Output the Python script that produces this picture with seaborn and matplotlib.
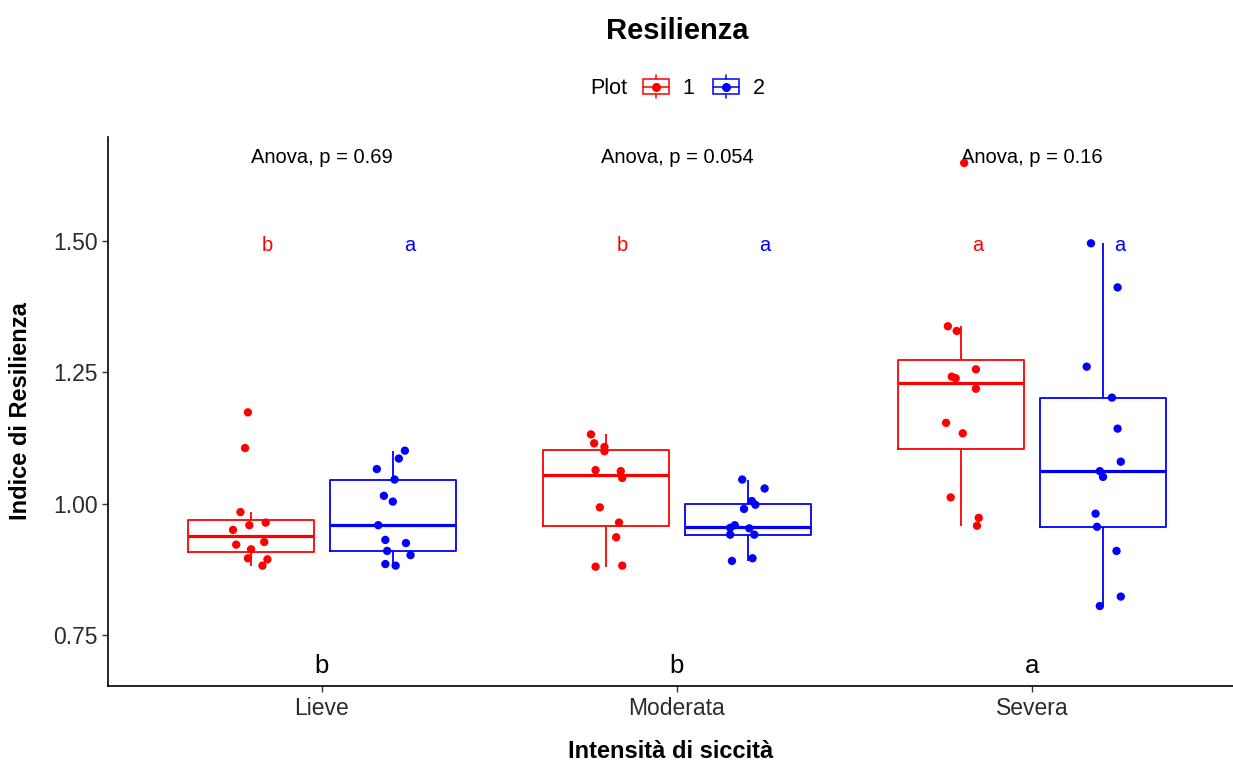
import numpy as np
import pandas as pd
import matplotlib
matplotlib.use("Agg")
import matplotlib.pyplot as plt
from matplotlib.legend_handler import HandlerBase
from matplotlib.lines import Line2D
from matplotlib.patches import Rectangle
import seaborn as sns

# ---- data -------------------------------------------------------------
categories = ["Lieve", "Moderata", "Severa"]
plots = ["1", "2"]

lieve_1 = [1.174, 1.106, 0.984, 0.959, 0.964, 0.950, 0.922, 0.927, 0.913, 0.896, 0.894, 0.882]
lieve_2 = [1.101, 1.086, 1.066, 1.046, 1.015, 1.004, 0.959, 0.931, 0.925, 0.910, 0.902, 0.885, 0.882]
moderata_1 = [1.132, 1.115, 1.108, 1.100, 1.064, 1.062, 1.049, 0.993, 0.964, 0.936, 0.880, 0.882]
moderata_2 = [1.046, 1.029, 1.005, 0.998, 0.990, 0.959, 0.954, 0.941, 0.953, 0.941, 0.891, 0.896]
severa_1 = [1.649, 1.338, 1.329, 1.256, 1.242, 1.239, 1.219, 1.154, 1.134, 1.012, 0.973, 0.958]
severa_2 = [1.496, 1.412, 1.261, 1.202, 1.143, 1.080, 1.062, 1.051, 0.981, 0.956, 0.910, 0.823, 0.805]

# horizontal jitter of the individual points (category units)
lieve_1_jit = [-0.008, -0.016, -0.029, -0.004, 0.042, -0.050, -0.041, 0.038, 0.001, -0.008, 0.047, 0.033]
lieve_2_jit = [0.034, 0.017, -0.045, 0.005, -0.025, 0.0, -0.041, -0.021, 0.037, -0.016, 0.050, -0.021, 0.008]
moderata_1_jit = [-0.042, -0.033, -0.004, -0.004, -0.029, 0.042, 0.046, -0.017, 0.037, 0.029, -0.029, 0.046]
moderata_2_jit = [-0.016, 0.047, 0.011, 0.021, -0.011, -0.037, -0.050, -0.050, 0.004, 0.018, -0.045, 0.013]
severa_1_jit = [0.009, -0.037, -0.012, 0.042, -0.026, -0.015, 0.042, -0.042, 0.005, -0.029, 0.050, 0.045]
severa_2_jit = [-0.034, 0.041, -0.046, 0.025, 0.041, 0.050, -0.009, 0.0, -0.021, -0.017, 0.038, 0.050, -0.009]

anova_p = ["0.69", "0.054", "0.16"]
letters_plot1 = ["b", "b", "a"]
letters_plot2 = ["a", "a", "a"]
letters_group = ["b", "b", "a"]

y_ticks = [0.75, 1.00, 1.25, 1.50]
y_tick_labels = ["0.75", "1.00", "1.25", "1.50"]

# ---- long table -------------------------------------------------------
series = {
    ("Lieve", "1"): (lieve_1, lieve_1_jit),
    ("Lieve", "2"): (lieve_2, lieve_2_jit),
    ("Moderata", "1"): (moderata_1, moderata_1_jit),
    ("Moderata", "2"): (moderata_2, moderata_2_jit),
    ("Severa", "1"): (severa_1, severa_1_jit),
    ("Severa", "2"): (severa_2, severa_2_jit),
}
rows = []
for (cat, plot), (vals, jit) in series.items():
    for v, j in zip(vals, jit):
        rows.append({"Intensita": cat, "Plot": plot, "Resilienza": v, "jit": j})
df = pd.DataFrame(rows)

# ---- style ------------------------------------------------------------
sns.set_theme(style="ticks")
plt.rcParams["font.family"] = ["Liberation Sans", "DejaVu Sans"]
plt.rcParams["text.color"] = "black"

palette = {"1": "#FF0000", "2": "#0000FF"}
box_width = 0.8
dodge_off = box_width / 4

fig = plt.figure(figsize=(12.33, 7.62), dpi=100)
ax = fig.add_axes([108 / 1233, 1 - 686 / 762, 1 - 108 / 1233, (686 - 137) / 762])

sns.boxplot(
    data=df, x="Intensita", y="Resilienza", hue="Plot",
    order=categories, hue_order=plots, palette=palette,
    fill=False, showfliers=False, showcaps=False,
    width=box_width, gap=0.11, linewidth=1.3,
    medianprops={"linewidth": 2.3},
    legend=False, ax=ax,
)

# jittered observations
for (cat, plot), (vals, jit) in series.items():
    base = categories.index(cat) + (-dodge_off if plot == "1" else dodge_off)
    xs = base + np.asarray(jit)
    ax.scatter(xs, vals, s=36, color=palette[plot], edgecolors="none", zorder=4)

# annotations
for i, cat in enumerate(categories):
    ax.text(i, 1.660, f"Anova, p = {anova_p[i]}", ha="center", va="center",
            fontsize=14.5, color="black")
    ax.text(i - dodge_off + 0.047, 1.492, letters_plot1[i], ha="center", va="center",
            fontsize=14.5, color=palette["1"])
    ax.text(i + dodge_off + 0.047, 1.492, letters_plot2[i], ha="center", va="center",
            fontsize=14.5, color=palette["2"])
    ax.text(i, 0.690, letters_group[i], ha="center", va="center",
            fontsize=18.5, color="black")

# axes
ax.set_xlim(-0.602, 2.566)
ax.set_ylim(0.6527, 1.6985)
ax.set_yticks(y_ticks)
ax.set_yticklabels(y_tick_labels)
ax.set_xticks(range(len(categories)))
ax.set_xticklabels(categories)
ax.tick_params(axis="both", labelsize=16.5, length=4, width=1.0, color="#333333",
               labelcolor="#2b2b2b")
ax.tick_params(axis="x", pad=4)
for side in ["top", "right"]:
    ax.spines[side].set_visible(False)
for side in ["left", "bottom"]:
    ax.spines[side].set_linewidth(1.2)
    ax.spines[side].set_color("black")
ax.set_xlabel("Intensità di siccità", fontsize=17, fontweight="bold", labelpad=14,
              color="black")
ax.set_ylabel("Indice di Resilienza", fontsize=17, fontweight="bold", labelpad=15,
              color="black")
ax.grid(False)

fig.suptitle("Resilienza", x=677 / 1233, y=1 - 31 / 762, va="center",
             fontsize=21, fontweight="bold", color="black")


# legend keys drawn as small boxplots
class BoxKeyHandler(HandlerBase):
    def create_artists(self, legend, orig_handle, xdescent, ydescent,
                       width, height, fontsize, trans):
        c = orig_handle.get_color()
        x0, y0 = -xdescent, -ydescent
        cx = x0 + width / 2
        bh = height * 0.64
        by = y0 + (height - bh) / 2
        rect = Rectangle((x0, by), width, bh, fill=False, edgecolor=c,
                         linewidth=1.1, transform=trans)
        med = Line2D([x0, x0 + width], [y0 + height / 2] * 2, color=c,
                     linewidth=1.1, transform=trans)
        wlo = Line2D([cx, cx], [y0, by], color=c, linewidth=1.1, transform=trans)
        whi = Line2D([cx, cx], [by + bh, y0 + height], color=c, linewidth=1.1,
                     transform=trans)
        dot = Line2D([cx], [y0 + height / 2], marker="o", markersize=5.5,
                     color=c, linestyle="none", transform=trans)
        return [rect, med, wlo, whi, dot]


handles = [Line2D([], [], color=palette[p]) for p in plots]
leg = fig.legend(
    handles, plots, loc="center left", bbox_to_anchor=(643 / 1233, 1 - 87 / 762),
    ncol=2, frameon=False, fontsize=15.5, handlelength=1.2, handleheight=1.3,
    handletextpad=0.65, columnspacing=0.85, borderpad=0, borderaxespad=0,
    handler_map={Line2D: BoxKeyHandler()},
)
for t in leg.get_texts():
    t.set_color("black")
fig.text(590 / 1233, 1 - 88 / 762, "Plot", ha="left", va="center",
         fontsize=15.5, color="black")

fig.savefig("out.png", dpi=100)
